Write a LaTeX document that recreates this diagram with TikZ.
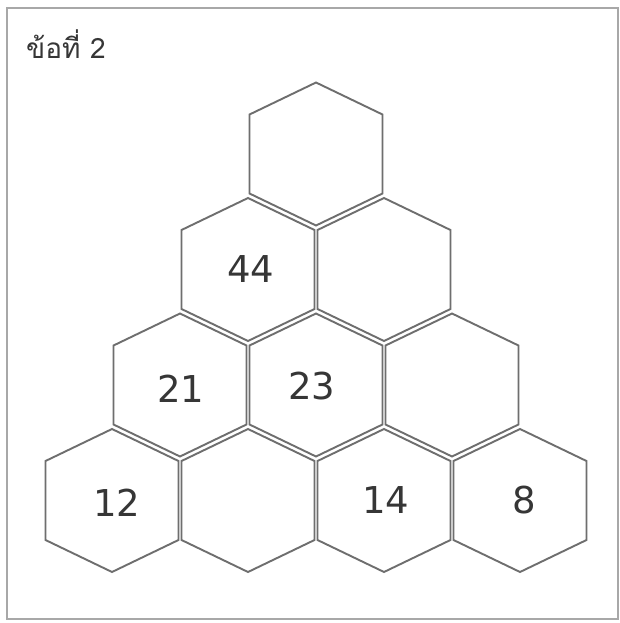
\documentclass[tikz,border=0pt]{standalone}
\usepackage{fontspec}
\usepackage{xcolor}
\newfontfamily\thaifont[Script=Thai]{Loma}
\newfontfamily\numfont{DejaVu Sans}
\definecolor{PuzzleFrame}{HTML}{A8A8A8}
\definecolor{PuzzleLine}{HTML}{6E6E6E}
\definecolor{PuzzleText}{HTML}{363636}

\begin{document}
\begin{tikzpicture}[x=1pt,y=-1pt,
    hexline/.style={PuzzleLine,line width=1.9pt,line join=miter},
    cellnum/.style={text=PuzzleText,inner sep=0pt,
      font=\numfont\fontsize{37}{40}\selectfont}]
        \useasboundingbox (0,0) rectangle (620,623);
        \fill[white] (0,0) rectangle (620,623);

        \draw[PuzzleFrame,line width=1.6pt]
          (7,8) rectangle (618,619);

        \node[anchor=base west,text=PuzzleText,inner sep=0pt,
          font=\thaifont\fontsize{28}{30}\selectfont] (title) at (26,59) {ข้อที่ 2};

        % one cell per row and column of the pyramid
        \foreach \hx/\hy in {316/154,248/269.5,384/269.5,
          180/385,316/385,452/385,112/500.5,248/500.5,384/500.5,520/500.5}{
          \draw[hexline] (\hx,\hy-71.5) -- ++(66.5,32) -- ++(0,79)
            -- ++(-66.5,32) -- ++(-66.5,-32) -- ++(0,-79) -- cycle;
        }

        \node[cellnum] (c44) at (251,269) {44};
        \node[cellnum] (c21) at (181,389) {21};
        \node[cellnum] (c23) at (312,386) {23};
        \node[cellnum] (c12) at (117,503) {12};
        \node[cellnum] (c14) at (386,500.5) {14};
        \node[cellnum] (c8) at (524,500.5) {8};
      \end{tikzpicture}
\end{document}
